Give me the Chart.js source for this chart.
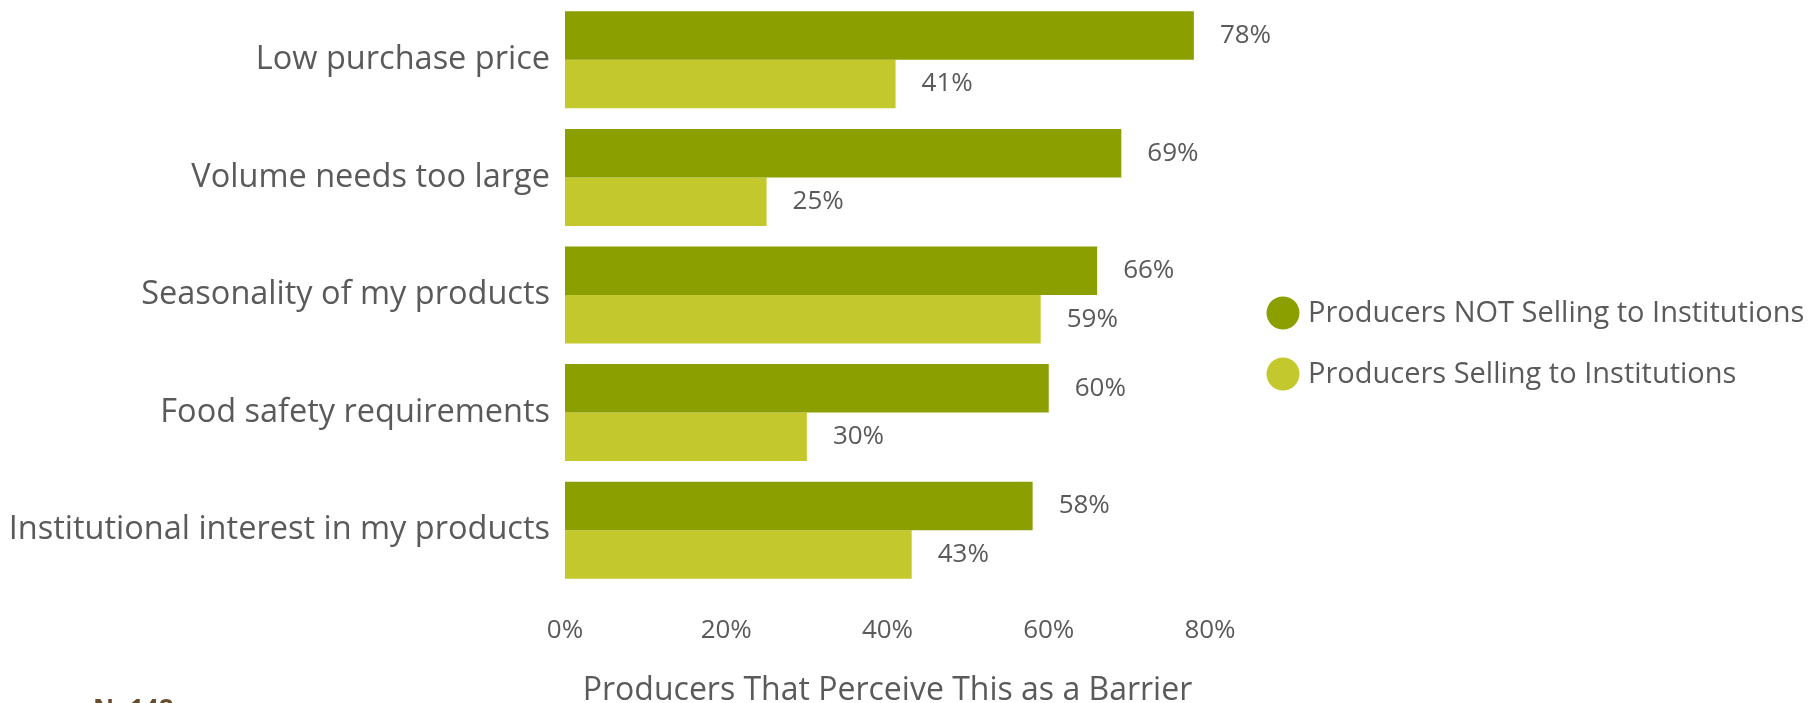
<!DOCTYPE html>
<html>
<head>
<meta charset="utf-8">
<title>Barriers to selling to institutions</title>
<script src="https://cdn.jsdelivr.net/npm/chart.js@4.4.1/dist/chart.umd.min.js"></script>
<style>
  html, body { margin: 0; padding: 0; background: #fff; }
  #wrap { position: relative; width: 1808px; height: 703px; }
</style>
</head>
<body>
<div id="wrap"><canvas id="chartBarreras"></canvas></div>
<script>
// datos
const barreras = [
  'Low purchase price',
  'Volume needs too large',
  'Seasonality of my products',
  'Food safety requirements',
  'Institutional interest in my products'
];
const noVenden = [78, 69, 66, 60, 58];
const venden = [41, 25, 59, 30, 43];
const series = ['Producers NOT Selling to Institutions', 'Producers Selling to Institutions'];
const ticksX = [0, 20, 40, 60, 80];
const tituloX = 'Producers That Perceive This as a Barrier';
const nota = 'N=148';

const colores = ['#8ba000', '#c3c92c'];
const gris = '#5a5a5a';
const fuente = '"Open Sans", "Noto Sans", sans-serif';

// etiquetas de valor al final de cada barra
const etiquetasValor = {
  id: 'etiquetasValor',
  afterDatasetsDraw(chart) {
    const ctx = chart.ctx;
    ctx.save();
    ctx.font = '26px ' + fuente;
    ctx.fillStyle = gris;
    ctx.textAlign = 'left';
    ctx.textBaseline = 'middle';
    chart.data.datasets.forEach((ds, i) => {
      chart.getDatasetMeta(i).data.forEach((bar, j) => {
        ctx.fillText(ds.data[j] + '%', bar.x + 26, bar.y);
      });
    });
    ctx.restore();
  }
};

// leyenda a la derecha, titulo del eje y nota de la muestra
const extras = {
  id: 'extras',
  afterDraw(chart) {
    const ctx = chart.ctx;
    const area = chart.chartArea;
    ctx.save();

    // leyenda con circulos
    const lx = area.right + 73;
    const cy = chart.height / 2 - 8;
    ctx.font = '29px ' + fuente;
    ctx.textAlign = 'left';
    ctx.textBaseline = 'middle';
    chart.data.datasets.forEach((ds, i) => {
      const y = cy + (i - 0.5) * 61;
      ctx.beginPath();
      ctx.arc(lx, y, 16.5, 0, Math.PI * 2);
      ctx.fillStyle = ds.backgroundColor;
      ctx.fill();
      ctx.fillStyle = gris;
      ctx.fillText(ds.label, lx + 25, y + 1);
    });

    // titulo del eje x
    ctx.font = '32px ' + fuente;
    ctx.textAlign = 'center';
    ctx.textBaseline = 'alphabetic';
    ctx.fillStyle = gris;
    ctx.fillText(tituloX, (area.left + area.right) / 2, area.bottom + 111);

    // nota N
    ctx.font = 'bold 26px ' + fuente;
    ctx.textAlign = 'left';
    ctx.fillStyle = '#6b4c2a';
    ctx.fillText(nota, 93, chart.height + 15);

    ctx.restore();
  }
};

const ctx = document.getElementById('chartBarreras').getContext('2d');
new Chart(ctx, {
  type: 'bar',
  data: {
    labels: barreras,
    datasets: [
      { label: series[0], data: noVenden, backgroundColor: colores[0] },
      { label: series[1], data: venden, backgroundColor: colores[1] }
    ]
  },
  options: {
    indexAxis: 'y',
    responsive: true,
    maintainAspectRatio: false,
    animation: false,
    layout: { padding: { top: 1, right: 598, bottom: 0, left: 0 } },
    datasets: { bar: { categoryPercentage: 0.825, barPercentage: 1.0 } },
    plugins: {
      legend: { display: false },
      tooltip: { enabled: false }
    },
    scales: {
      x: {
        min: ticksX[0],
        max: ticksX[ticksX.length - 1],
        afterBuildTicks: s => { s.ticks = ticksX.map(v => ({ value: v })); },
        afterFit: s => { s.height = 114; s.paddingLeft = 0; s.paddingRight = 0; },
        grid: { display: false, drawTicks: false },
        border: { display: false },
        ticks: {
          padding: 26,
          color: gris,
          font: { family: fuente, size: 26 },
          callback: v => v + '%'
        }
      },
      y: {
        afterFit: s => { s.width = 565; s.paddingTop = 0; s.paddingBottom = 0; },
        grid: { display: false, drawTicks: false },
        border: { display: false },
        ticks: {
          padding: 15,
          color: gris,
          font: { family: fuente, size: 32.5 }
        }
      }
    }
  },
  plugins: [etiquetasValor, extras]
});
</script>
</body>
</html>
